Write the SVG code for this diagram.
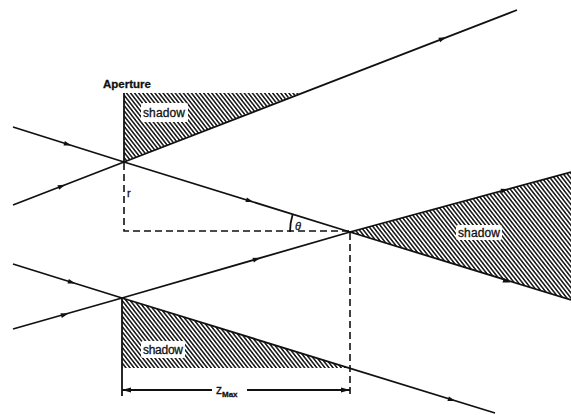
<svg xmlns="http://www.w3.org/2000/svg" width="571" height="415" viewBox="0 0 571 415">
<style>
.ray{fill:none;stroke:#111;stroke-width:1.8;stroke-linejoin:round}
.dash{fill:none;stroke:#111;stroke-width:1.6;stroke-dasharray:7 4}
.solid{fill:none;stroke:#111;stroke-width:1.8}
.hatch{fill:url(#hatch);stroke:none}
.lbl{font-family:"Liberation Sans",Arial,sans-serif;fill:#111;stroke:#111;stroke-width:0.3}
.box{fill:#fff;stroke:none}
</style>
<defs>
<pattern id="hatch" patternUnits="userSpaceOnUse" width="3.2" height="3.2" patternTransform="rotate(-38)">
<rect width="3.2" height="3.2" fill="#fff"/>
<line x1="0.8" y1="0" x2="0.8" y2="3.2" stroke="#111" stroke-width="1.5"/>
</pattern>
<path id="ah" d="M3.5,0 L-4,-2.4 L-4,2.4 Z" fill="#111"/>
<marker id="dimR" markerWidth="10" markerHeight="8" refX="9" refY="4" orient="auto" markerUnits="userSpaceOnUse">
<path d="M0,1.5 L9,4 L0,6.5 Z" fill="#111"/>
</marker>
<marker id="dimL" markerWidth="10" markerHeight="8" refX="1" refY="4" orient="auto" markerUnits="userSpaceOnUse">
<path d="M10,1.5 L1,4 L10,6.5 Z" fill="#111"/>
</marker>
</defs>
<rect width="571" height="415" fill="#fff"/>

<g id="shadows">
<polygon id="shadow-top" class="hatch" points="124,93 300,93 124,162"/>
<polygon id="shadow-right" class="hatch" points="350,232 571,172 571,300"/>
<polygon id="shadow-bottom" class="hatch" points="122,298 122,368 350,368"/>
</g>

<g id="connectors">
<polyline class="ray" points="13,127 124,162 350,232 571,300"/>
<polyline class="ray" points="13,205 124,162 517,10"/>
<polyline class="ray" points="13,264 122,298 495,413"/>
<polyline class="ray" points="13,329 122,298 350,232 571,172"/>
<line class="solid" x1="124" y1="93" x2="124" y2="162"/>
<line class="solid" x1="122" y1="298" x2="122" y2="396"/>
<polyline class="dash" points="124,163 124,231 350,231"/>
<line class="dash" x1="350" y1="233" x2="350" y2="394"/>
<path class="solid" d="M292.7,214.3 A60,60 0 0 0 290,232" stroke-width="1.4"/>
<line class="solid" x1="122" y1="390" x2="212" y2="390" stroke-width="1.4" marker-start="url(#dimL)"/>
<line class="solid" x1="247" y1="390" x2="350" y2="390" stroke-width="1.4" marker-end="url(#dimR)"/>
<use href="#ah" transform="translate(68,144.5) rotate(17.5)"/>
<use href="#ah" transform="translate(250,201) rotate(17.2)"/>
<use href="#ah" transform="translate(507,281.5) rotate(17.1)"/>
<use href="#ah" transform="translate(62,186) rotate(-21.2)"/>
<use href="#ah" transform="translate(443,38.6) rotate(-21.2)"/>
<use href="#ah" transform="translate(72,282.5) rotate(17.2)"/>
<use href="#ah" transform="translate(452,400) rotate(17.2)"/>
<use href="#ah" transform="translate(65,314.5) rotate(-16)"/>
<use href="#ah" transform="translate(257,259) rotate(-16.1)"/>
<use href="#ah" transform="translate(505,190) rotate(-15.2)"/>
</g>

<g id="label-aperture"><text class="lbl" x="103" y="88" font-size="11.5" textLength="48" font-weight="bold">Aperture</text></g>
<g id="label-shadow-top"><rect class="box" x="141" y="103" width="47" height="19" rx="2"/><text class="lbl" x="143" y="117" font-size="12" textLength="42">shadow</text></g>
<g id="label-shadow-right"><rect class="box" x="456" y="225" width="46" height="15" rx="2"/><text class="lbl" x="458" y="237" font-size="12" textLength="42">shadow</text></g>
<g id="label-shadow-bottom"><rect class="box" x="141" y="341" width="44" height="17" rx="2"/><text class="lbl" x="143" y="354" font-size="12" textLength="40">shadow</text></g>
<g id="label-r"><text class="lbl" x="127" y="197" font-size="11">r</text></g>
<g id="label-theta"><text class="lbl" x="295" y="230" font-size="11" font-style="italic">θ</text></g>
<g id="label-zmax"><text class="lbl" x="216" y="394" font-size="12">z<tspan font-size="8" dy="3" font-weight="bold">Max</tspan></text></g>
</svg>
